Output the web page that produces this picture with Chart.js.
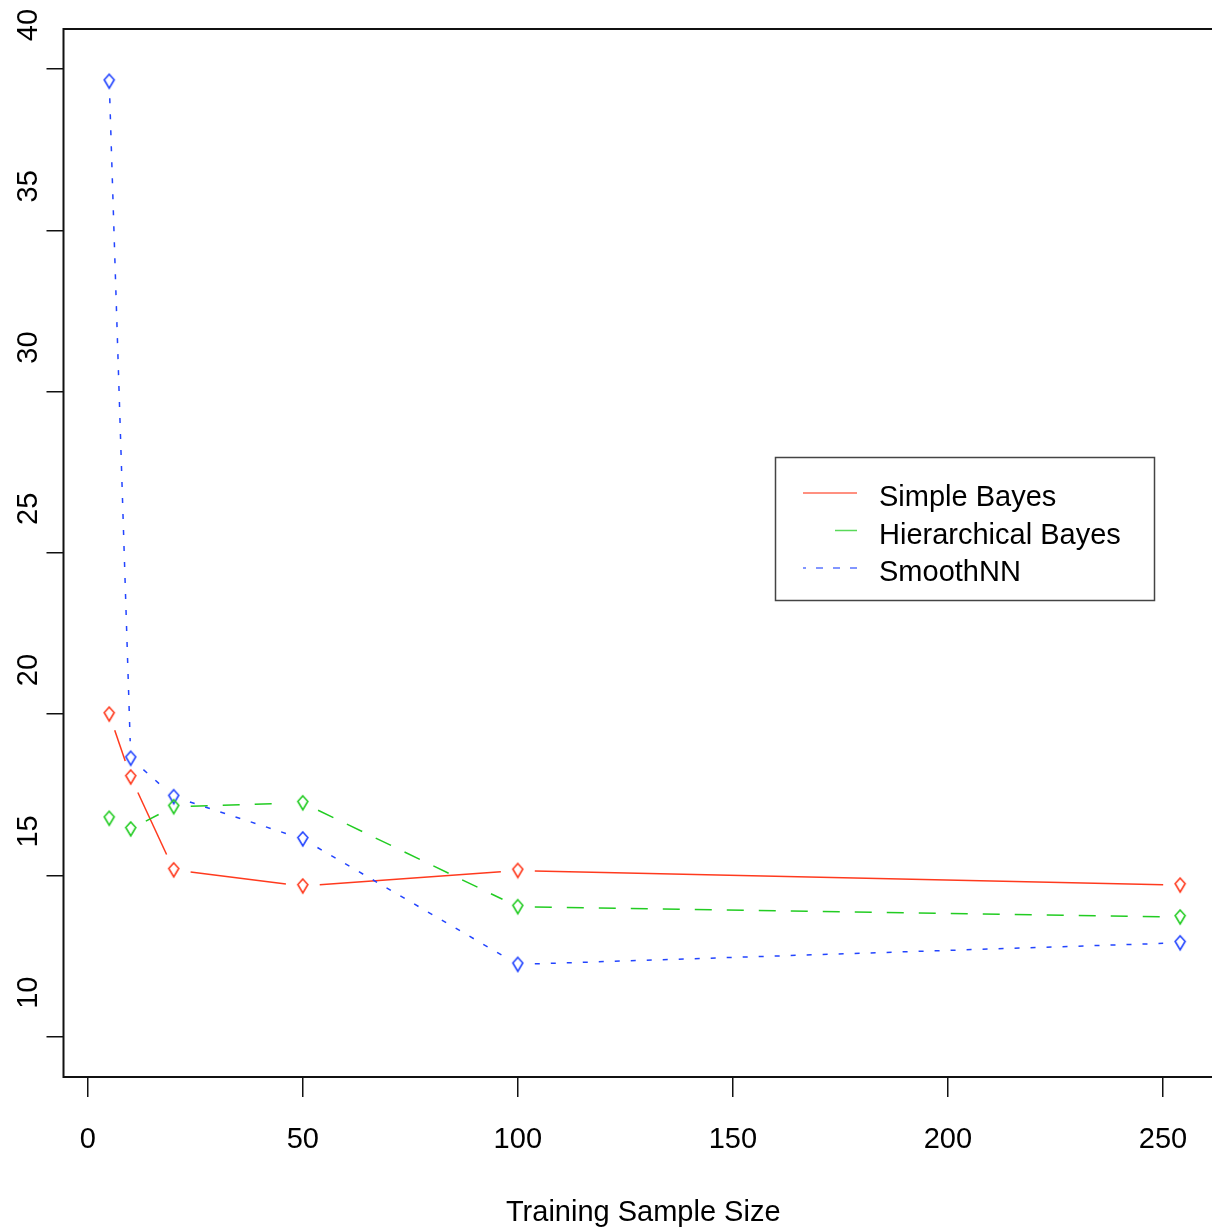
<!DOCTYPE html>
<html>
<head>
<meta charset="utf-8">
<script src="https://cdn.jsdelivr.net/npm/chart.js@4"></script>
<style>
  body { margin: 0; background: #fff; overflow: hidden; }
  #wrap { width: 1212px; height: 1232px; overflow: hidden; }
  #chart { display: block; }
</style>
</head>
<body>
<!-- the plot region runs a little past the right edge in the original, so the canvas is a bit wider and clipped -->
<div id="wrap"><canvas id="chart" width="1223" height="1232"></canvas></div>
<script>
// training sample sizes and error rates
const sampleSizes = [5, 10, 20, 50, 100, 254];
const simpleBayes = [20.0, 18.05, 15.17, 14.67, 15.15, 14.7];
const hierBayes = [16.77, 16.44, 17.13, 17.25, 14.03, 13.71];
const smoothNN = [39.62, 18.63, 17.44, 16.13, 12.24, 12.91];

const xTicks = [0, 50, 100, 150, 200, 250];
const yTicks = [10, 15, 20, 25, 30, 35, 40];
const seriesNames = ['Simple Bayes', 'Hierarchical Bayes', 'SmoothNN'];
const colours = ['#ff3a1e', '#22cc22', '#2244ff'];
const dashes = [[], [17, 15], [5, 11]];

const FONT = 'Liberation Sans, Arial, sans-serif';

// little kite shaped marker, like the R symbol
function diamond(colour) {
  const c = document.createElement('canvas');
  c.width = 14; c.height = 18;
  const g = c.getContext('2d');
  g.strokeStyle = colour;
  g.lineWidth = 1.6;
  g.beginPath();
  g.moveTo(7, 2);
  g.lineTo(12, 7.5);
  g.lineTo(7, 16);
  g.lineTo(2, 7.5);
  g.closePath();
  g.stroke();
  return c;
}

// type="b" lines: segments stop short of the points
const gapLines = {
  id: 'gapLines',
  afterDatasetsDraw(chart) {
    const ctx = chart.ctx;
    const gap = 17;
    chart.data.datasets.forEach((ds, i) => {
      const pts = chart.getDatasetMeta(i).data;
      ctx.save();
      ctx.strokeStyle = ds.borderColor;
      ctx.lineWidth = 1.5;
      for (let k = 0; k < pts.length - 1; k++) {
        const a = pts[k], b = pts[k + 1];
        const dx = b.x - a.x, dy = b.y - a.y;
        const len = Math.hypot(dx, dy);
        if (len <= 2 * gap) continue;
        const ux = dx / len, uy = dy / len;
        ctx.setLineDash(ds.borderDash);
        ctx.lineDashOffset = 0;
        ctx.beginPath();
        ctx.moveTo(a.x + ux * gap, a.y + uy * gap);
        ctx.lineTo(b.x - ux * gap, b.y - uy * gap);
        ctx.stroke();
      }
      ctx.restore();
    });
  }
};

// plot box and the legend
const frame = {
  id: 'frame',
  afterDraw(chart) {
    const ctx = chart.ctx;
    const a = chart.chartArea;
    ctx.save();
    ctx.strokeStyle = '#111';
    ctx.lineWidth = 2;
    ctx.strokeRect(a.left, a.top, a.right - a.left, a.bottom - a.top);

    // legend box
    ctx.strokeStyle = '#444';
    ctx.lineWidth = 1.5;
    ctx.strokeRect(775.5, 457.5, 379, 143);
    ctx.font = '29px ' + FONT;
    ctx.textBaseline = 'middle';
    ctx.fillStyle = '#000';
    chart.data.datasets.forEach((ds, i) => {
      const y = 493 + i * 37.5;
      ctx.strokeStyle = ds.borderColor;
      ctx.globalAlpha = 0.75;
      ctx.setLineDash(i === 1 ? [22, 60] : i === 2 ? [7, 10] : []);
      ctx.beginPath();
      ctx.moveTo(857, y);
      ctx.lineTo(803, y);
      ctx.stroke();
      ctx.globalAlpha = 1;
      ctx.setLineDash([]);
      ctx.fillText(ds.label, 879, y + 5);
    });
    ctx.restore();
  }
};

const allSeries = [simpleBayes, hierBayes, smoothNN];
const datasets = allSeries.map((vals, i) => ({
  label: seriesNames[i],
  data: sampleSizes.map((x, k) => ({ x: x, y: vals[k] })),
  borderColor: colours[i],
  borderDash: dashes[i],
  showLine: false,
  pointStyle: diamond(colours[i]),
  pointRadius: 8
}));

const tickFont = { family: FONT, size: 29 };

new Chart(document.getElementById('chart'), {
  type: 'scatter',
  data: { datasets },
  options: {
    responsive: false,
    animation: false,
    devicePixelRatio: 1,
    layout: { autoPadding: false, padding: { top: 29, right: 0, left: 0, bottom: 0 } },
    plugins: {
      legend: { display: false },
      tooltip: { enabled: false }
    },
    scales: {
      x: {
        type: 'linear',
        min: -5.63,
        max: 263.96,
        afterBuildTicks: s => { s.ticks = xTicks.map(v => ({ value: v })); },
        afterFit: s => { s.height = 155; s.paddingLeft = 0; s.paddingRight = 0; },
        grid: { drawOnChartArea: false, tickLength: 20, color: '#111', lineWidth: 1.5 },
        border: { display: false },
        ticks: { color: '#000', font: tickFont, padding: 26, maxRotation: 0, autoSkip: false },
        title: {
          display: true,
          text: 'Training Sample Size',
          color: '#000',
          font: tickFont,
          padding: { top: 0, bottom: 2 }
        }
      },
      y: {
        type: 'linear',
        min: 8.75,
        max: 41.24,
        afterBuildTicks: s => { s.ticks = yTicks.map(v => ({ value: v })); },
        afterFit: s => { s.width = 63.5; s.paddingTop = 0; s.paddingBottom = 0; },
        grid: { drawOnChartArea: false, tickLength: 17, color: '#111', lineWidth: 1.5 },
        border: { display: false },
        ticks: {
          color: '#000',
          font: tickFont,
          minRotation: 90,
          maxRotation: 90,
          crossAlign: 'center',
          labelOffset: -44,
          padding: 1.4,
          autoSkip: false
        }
      }
    }
  },
  plugins: [gapLines, frame]
});
</script>
</body>
</html>
